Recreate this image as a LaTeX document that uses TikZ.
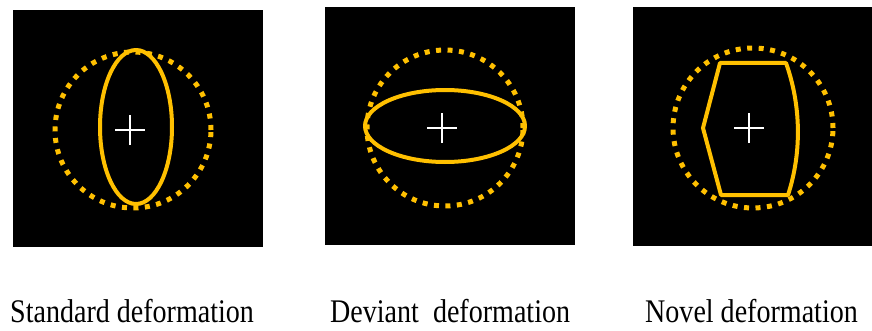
\documentclass[tikz,border=0pt]{standalone}
\usepackage{fontspec}
\setmainfont{Liberation Serif}
\newfontfamily\labelfont[FakeStretch=0.85]{Liberation Serif}
\definecolor{gold}{HTML}{FFC000}
\tikzset{
  panel/.style={fill=black},
  target/.style={draw=gold, line width=5pt, dash pattern=on 5pt off 6.5pt},
  outline/.style={draw=gold, line width=4pt, line join=round},
  fixcross/.style={draw=white, line width=2.5pt},
  caption/.style={font=\labelfont\fontsize{33}{36}\selectfont, inner sep=0pt, anchor=base west}
}
\begin{document}
\begin{tikzpicture}[x=1pt,y=1pt]
\useasboundingbox (0,0) rectangle (872,330);

% panels
\fill[panel] (13,83) rectangle (263,320);
\fill[panel] (325,85) rectangle (575,323);
\fill[panel] (633,84) rectangle (872,323);

% standard
\draw[target] (133,200) circle (78pt);
\draw[outline] (136,203) ellipse (36pt and 77pt);
\draw[fixcross] (115,200) -- (145,200) (130,185) -- (130,215);

% deviant
\draw[target] (445,202) circle (78pt);
\draw[outline] (445,204) ellipse (80pt and 36pt);
\draw[fixcross] (427,202) -- (457,202) (442,187) -- (442,217);

% novel
\draw[target] (753,202) circle (80pt);
\draw[outline] (720,267) -- (786,267) .. controls (801,225) and (802,178) .. (788,135)
  -- (721,135) -- (703,202) -- cycle;
\draw[fixcross] (734,202) -- (764,202) (749,187) -- (749,217);

% labels
\node[caption] (std) at (10,8) {Standard deformation};
\node[caption] (dev) at (330,8) {Deviant\ \ deformation};
\node[caption] (nov) at (645,8) {Novel deformation};
\end{tikzpicture}
\end{document}
